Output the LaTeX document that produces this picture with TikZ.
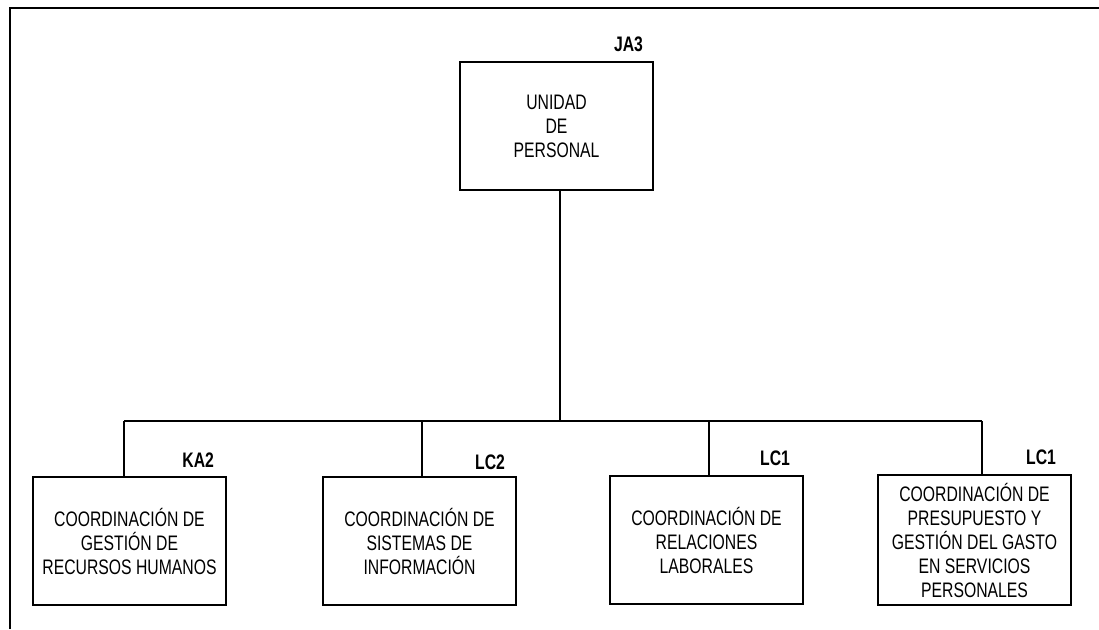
\documentclass[tikz,border=0pt]{standalone}
\usepackage{fontspec}
\setmainfont{Liberation Sans}[FakeStretch=0.75]
\usepackage{xcolor}
\definecolor{orgink}{HTML}{000000}
\usetikzlibrary{positioning}

\begin{document}
\begin{tikzpicture}[
  x=1pt,
  y=-1pt,
  every node/.style={font=\fontsize{21}{24}\selectfont, text=orgink},
  unitbox/.style={draw=orgink, line width=2.2pt, align=center, inner sep=0pt,
    minimum width=193pt, minimum height=128pt},
  grade/.style={font=\fontsize{21}{24}\selectfont\bfseries, inner sep=0pt},
  link/.style={draw=orgink, line width=2.6pt}
]
  \useasboundingbox (0,0) rectangle (1099,629);

  % marco
  \draw[orgink, line width=2.6pt] (10,629) -- (10,8) -- (1099,8);

  \node[unitbox] (unidad) at (556.5,126) {UNIDAD\\DE\\PERSONAL};
  \node[unitbox] (gestion) at (129.5,541) {COORDINACIÓN DE\\GESTIÓN DE\\RECURSOS HUMANOS};
  \node[unitbox] (sistemas) at (419.5,541) {COORDINACIÓN DE\\SISTEMAS DE\\INFORMACIÓN};
  \node[unitbox] (relaciones) at (706.5,540) {COORDINACIÓN DE\\RELACIONES\\LABORALES};
  \node[unitbox, minimum height=130pt] (presupuesto) at (974.5,540) {COORDINACIÓN DE\\PRESUPUESTO Y\\GESTIÓN DEL GASTO\\EN SERVICIOS\\PERSONALES};

  % claves de puesto
  \node[grade, above left=9pt and 11pt of unidad.north east] (gradeunidad) {JA3};
  \node[grade, above left=8pt and 13pt of gestion.north east] (gradegestion) {KA2};
  \node[grade, above left=6pt and 12pt of sistemas.north east] (gradesistemas) {LC2};
  \node[grade, above left=9pt and 14pt of relaciones.north east] (graderelaciones) {LC1};
  \node[grade, above left=9pt and 16pt of presupuesto.north east] (gradepresupuesto) {LC1};

  \coordinate (bus) at (560,421);
  \coordinate (busleft) at (124,421);
  \coordinate (busright) at (982,421);
  \draw[link] (unidad.south -| bus) -- (bus);
  \draw[link] (busleft) -- (busright);
  \foreach \dept/\x [count=\i] in {gestion/124, sistemas/422, relaciones/709, presupuesto/982}
  {
    \coordinate (drop\i) at (\x,421);
    \draw[link] (drop\i) -- (drop\i |- \dept.north);
  }
\end{tikzpicture}
\end{document}
